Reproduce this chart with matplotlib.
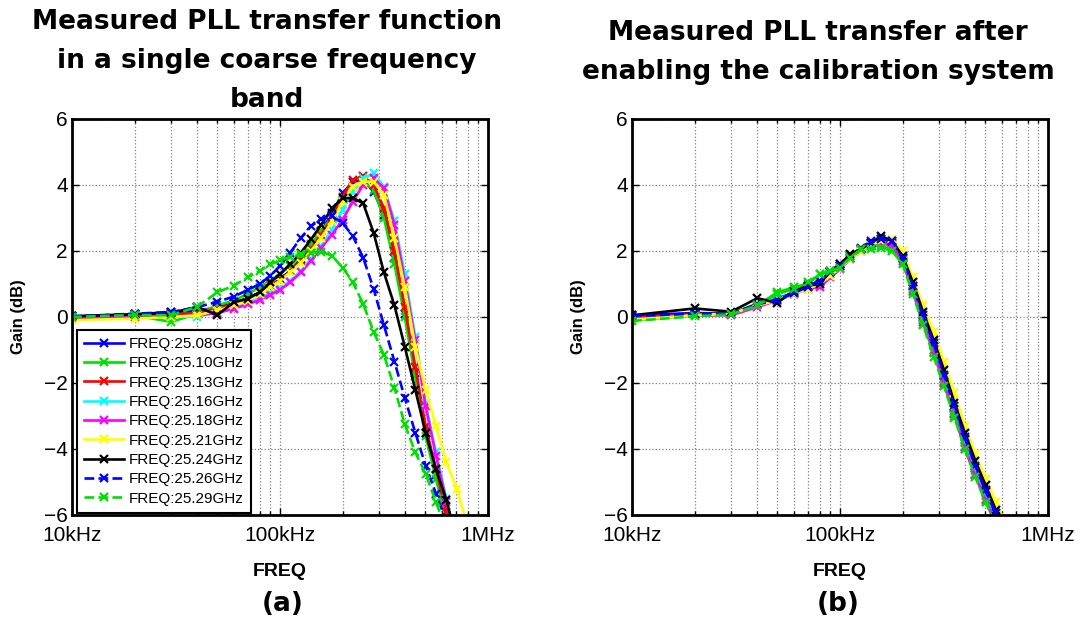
import matplotlib
matplotlib.use("Agg")
import matplotlib.pyplot as plt
from matplotlib.ticker import FixedLocator, NullFormatter

plt.rcParams["font.family"] = ["Liberation Sans", "DejaVu Sans"]

# measurement frequencies (kHz)
freq_khz = [10, 20, 30, 40, 50, 60, 70, 80, 90, 100, 112, 126, 141, 158, 178,
            200, 224, 251, 282, 316, 355, 398, 447, 501, 562, 631, 708, 794]

band_labels = ["FREQ:25.08GHz", "FREQ:25.10GHz", "FREQ:25.13GHz", "FREQ:25.16GHz",
               "FREQ:25.18GHz", "FREQ:25.21GHz", "FREQ:25.24GHz", "FREQ:25.26GHz",
               "FREQ:25.29GHz"]

# (a) single coarse band, gain in dB
a_2508 = [0.02, 0.08, 0.15, 0.18, 0.3, 0.42, 0.58, 0.75, 0.95, 1.15, 1.4, 1.75, 2.15, 2.6,
          3.15, 3.75, 4.1, 4.15, 3.8, 3.1, 1.8, 0.1, -1.7, -3.5, -4.8, -6.0, -7.2, -8.4]
a_2510 = [0.0, 0.05, -0.15, 0.1, 0.35, 0.5, 0.7, 0.9, 1.1, 1.3, 1.55, 1.85, 2.2, 2.6,
          3.05, 3.55, 3.95, 4.1, 3.85, 3.0, 1.6, 0.0, -1.8, -3.6, -4.9, -6.2, -7.3, -8.5]
a_2513 = [-0.02, 0.05, 0.08, 0.12, 0.25, 0.4, 0.55, 0.75, 0.95, 1.12, 1.38, 1.7, 2.05, 2.5,
          3.0, 3.65, 4.15, 4.27, 4.0, 3.3, 2.0, 0.3, -1.5, -3.3, -4.6, -5.9, -7.0, -8.2]
a_2516 = [0.0, 0.02, 0.0, 0.01, 0.15, 0.28, 0.42, 0.58, 0.72, 0.88, 1.1, 1.4, 1.75, 2.15,
          2.65, 3.25, 3.8, 4.2, 4.35, 3.95, 2.9, 1.3, -0.6, -2.6, -4.1, -5.5, -6.8, -8.0]
a_2518 = [-0.03, 0.0, 0.02, 0.05, 0.12, 0.25, 0.38, 0.52, 0.68, 0.82, 1.05, 1.35, 1.7, 2.1,
          2.5, 2.95, 3.5, 4.0, 4.2, 3.9, 2.8, 1.1, -0.7, -2.7, -4.2, -5.6, -6.9, -8.1]
a_2521 = [-0.1, -0.05, 0.0, 0.05, 0.2, 0.35, 0.5, 0.7, 0.9, 1.1, 1.35, 1.65, 2.0, 2.4,
          2.9, 3.5, 3.95, 4.1, 4.1, 3.7, 2.4, 0.9, -0.9, -2.2, -3.3, -4.4, -5.2, -6.3]
a_2524 = [0.02, 0.08, 0.13, 0.3, 0.06, 0.45, 0.55, 0.75, 1.05, 1.3, 1.6, 1.95, 2.35, 2.8,
          3.3, 3.6, 3.6, 3.45, 2.55, 1.35, 0.35, -0.9, -2.2, -3.5, -4.6, -5.55, -6.8, -8.0]
a_2526 = [0.02, 0.1, 0.15, 0.3, 0.46, 0.62, 0.82, 1.0, 1.25, 1.55, 1.95, 2.4, 2.75, 2.98,
          3.05, 2.85, 2.45, 1.8, 0.85, -0.25, -1.35, -2.45, -3.5, -4.5, -5.35, -6.2, -7.2, -8.2]
a_2529 = [0.0, 0.06, 0.05, 0.31, 0.75, 0.95, 1.2, 1.4, 1.6, 1.72, 1.82, 1.9, 1.95, 1.98,
          1.85, 1.5, 1.05, 0.4, -0.45, -1.15, -2.15, -3.25, -4.1, -4.75, -5.6, -6.5, -7.5, -8.5]

# (b) after calibration, gain in dB
b_2508 = [0.05, 0.12, 0.1, 0.4, 0.55, 0.75, 0.95, 1.1, 1.35, 1.6, 1.85, 2.1, 2.3, 2.35,
          2.25, 1.8, 0.95, 0.0, -0.85, -1.8, -2.75, -3.7, -4.5, -5.3, -6.0, -6.8, -7.6, -8.4]
b_2510 = [-0.1, 0.05, 0.08, 0.35, 0.75, 0.9, 1.0, 1.3, 1.35, 1.55, 1.85, 2.05, 2.15, 2.15,
          2.05, 1.65, 0.75, -0.2, -1.1, -2.05, -3.0, -3.95, -4.8, -5.6, -6.3, -7.1, -7.9, -8.7]
b_2513 = [0.0, 0.08, 0.1, 0.35, 0.5, 0.7, 0.9, 1.05, 1.3, 1.55, 1.8, 2.05, 2.25, 2.3,
          2.2, 1.75, 0.85, -0.1, -1.0, -1.95, -2.9, -4.0, -4.75, -5.5, -6.2, -7.0, -7.8, -8.6]
b_2516 = [-0.08, 0.05, 0.1, 0.35, 0.55, 0.7, 0.9, 1.05, 1.3, 1.5, 1.75, 2.0, 2.2, 2.25,
          2.15, 1.7, 0.8, -0.15, -1.05, -2.0, -2.95, -3.9, -4.75, -5.5, -6.2, -7.0, -7.8, -8.6]
b_2518 = [-0.05, 0.05, 0.05, 0.3, 0.5, 0.7, 0.85, 0.9, 1.2, 1.45, 1.75, 2.0, 2.2, 2.25,
          2.15, 1.7, 0.8, -0.15, -1.05, -2.0, -2.95, -3.95, -4.8, -5.55, -6.25, -7.0, -7.8, -8.6]
b_2521 = [-0.08, 0.05, 0.1, 0.35, 0.5, 0.7, 0.85, 1.0, 1.25, 1.5, 1.75, 2.0, 2.2, 2.3,
          2.35, 2.0, 1.2, 0.35, -0.45, -1.35, -2.3, -3.3, -4.15, -4.9, -5.6, -6.3, -7.1, -7.9]
b_2524 = [0.05, 0.26, 0.16, 0.57, 0.43, 0.8, 0.95, 1.0, 1.4, 1.6, 1.9, 2.05, 2.25, 2.45,
          2.3, 1.85, 1.05, 0.15, -0.7, -1.6, -2.6, -3.5, -4.35, -5.1, -5.85, -6.6, -7.4, -8.2]
b_2526 = [0.03, 0.1, 0.1, 0.38, 0.52, 0.72, 0.92, 1.1, 1.35, 1.55, 1.8, 2.05, 2.25, 2.35,
          2.3, 1.8, 0.95, 0.05, -0.8, -1.75, -2.7, -3.65, -4.5, -5.25, -5.95, -6.7, -7.5, -8.3]
b_2529 = [-0.12, 0.02, 0.08, 0.35, 0.7, 0.85, 1.05, 1.3, 1.4, 1.5, 1.8, 2.05, 2.05, 2.1,
          2.0, 1.6, 0.7, -0.25, -1.2, -2.1, -3.05, -4.0, -4.85, -5.6, -6.3, -7.1, -7.9, -8.7]

colors = ["#0000ff", "#00e000", "#ff0000", "#00ffff", "#ff00ff", "#ffff00",
          "#000000", "#0000ff", "#00e000"]
styles = ["-", "-", "-", "-", "-", "-", "-", "--", "--"]

freq_hz = [f * 1e3 for f in freq_khz]
W, H = 1083, 624
fig = plt.figure(figsize=(W / 100, H / 100), dpi=100)


def make_axes(x0, curves):
    ax = fig.add_axes([x0 / W, 1 - 515 / H, 416 / W, 396 / H])
    for g, c, ls, lab in zip(curves, colors, styles, band_labels):
        ax.plot(freq_hz, g, color=c, ls=ls, lw=1.9, marker="x", ms=6, mew=1.6,
                label=lab)
    ax.set_xscale("log")
    ax.set_xlim(1e4, 1e6)
    ax.set_ylim(-6, 6)
    ax.xaxis.set_major_locator(FixedLocator([1e4, 1e5, 1e6]))
    ax.set_xticklabels(["10kHz", "100kHz", "1MHz"])
    ax.xaxis.set_minor_locator(FixedLocator([k * 10 ** e for e in (4, 5) for k in range(2, 10)]))
    ax.xaxis.set_minor_formatter(NullFormatter())
    ax.set_yticks([-6, -4, -2, 0, 2, 4, 6])
    ax.grid(True, which="major", color="0.5", ls=":", lw=0.9)
    ax.grid(True, which="minor", axis="x", color="0.5", ls=":", lw=0.9)
    ax.tick_params(which="both", direction="in", top=True, right=True, width=1)
    ax.tick_params(which="major", length=5)
    ax.tick_params(which="minor", length=3)
    ax.tick_params(axis="y", labelsize=15, pad=3)
    ax.tick_params(axis="x", labelsize=15, pad=8)
    for s in ax.spines.values():
        s.set_linewidth(2)
    ax.set_ylabel("Gain (dB)", fontsize=12, fontweight="bold", labelpad=13)
    ax.set_xlabel("FREQ", fontsize=14, fontweight="bold", labelpad=13)
    return ax


ax1 = make_axes(72, [a_2508, a_2510, a_2513, a_2516, a_2518, a_2521, a_2524, a_2526, a_2529])
ax2 = make_axes(632, [b_2508, b_2510, b_2513, b_2516, b_2518, b_2521, b_2524, b_2526, b_2529])

leg = ax1.legend(loc="lower left", bbox_to_anchor=(0.012, 0.006), fontsize=11,
                 frameon=True, fancybox=False, framealpha=1, edgecolor="black",
                 handlelength=2.6, handletextpad=0.35, labelspacing=0.35,
                 borderpad=0.45, borderaxespad=0)
leg.get_frame().set_linewidth(1.5)

title_font = dict(family="DejaVu Sans", fontweight="bold", fontsize=19,
                  ha="center", va="top", ma="center", linespacing=1.65)
fig.text(267 / W, 1 - 9 / H,
         "Measured PLL transfer function\nin a single coarse frequency\nband", **title_font)
fig.text(818 / W, 1 - 20 / H,
         "Measured PLL transfer after\nenabling the calibration system", **title_font)

fig.text(283 / W, 1 - 604 / H, "(a)", family="DejaVu Sans", fontsize=19,
         fontweight="bold", ha="center", va="center")
fig.text(838 / W, 1 - 604 / H, "(b)", family="DejaVu Sans", fontsize=19,
         fontweight="bold", ha="center", va="center")

fig.savefig("out.png", dpi=100)
